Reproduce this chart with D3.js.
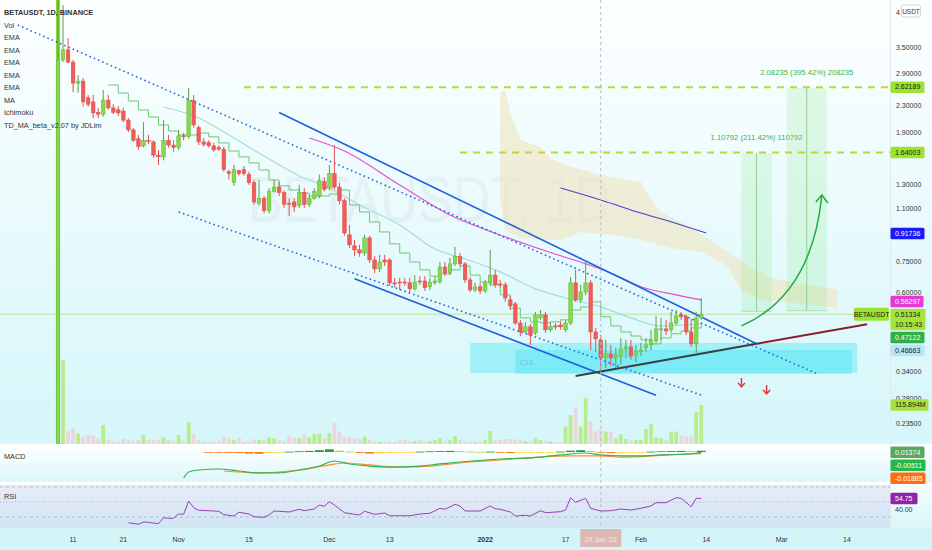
<!DOCTYPE html>
<html>
<head>
<meta charset="utf-8">
<script src="https://cdn.jsdelivr.net/npm/d3@7"></script>
<style>
  body { margin: 0; background: #fff; }
  svg { display: block; font-family: "Liberation Sans", Arial, sans-serif; }
</style>
</head>
<body>
<div id="chart"></div>
<script>
// ---- data ----
const firstDay = "2021-10-08";
const openPx  = [0.15,3.19,3.43,3.14,2.70,2.74,2.43,2.36,2.19,2.16,2.39,2.26,2.23,2.21,2.07,1.93,1.81,1.72,1.79,1.77,1.61,1.59,1.79,1.73,1.70,1.85,1.84,2.38,1.96,1.77,1.76,1.72,1.70,1.68,1.43,1.32,1.44,1.45,1.40,1.32,1.14,1.18,1.08,1.24,1.28,1.23,1.14,1.15,1.12,1.23,1.13,1.18,1.20,1.33,1.27,1.41,1.28,1.16,0.908,0.839,0.815,0.797,0.888,0.758,0.711,0.758,0.758,0.643,0.647,0.647,0.643,0.616,0.652,0.652,0.625,0.643,0.647,0.721,0.690,0.737,0.776,0.737,0.657,0.611,0.625,0.607,0.643,0.680,0.638,0.634,0.569,0.553,0.482,0.452,0.469,0.449,0.500,0.511,0.459,0.472,0.475,0.459,0.482,0.643,0.569,0.602,0.643,0.452,0.427,0.375,0.386,0.375,0.380,0.400,0.406,0.383,0.392,0.403,0.412,0.424,0.459,0.462,0.459,0.482,0.511,0.504,0.452,0.415,0.500];
const highPx  = [5.2,4.73,3.73,3.19,2.86,2.80,2.48,2.48,2.26,2.57,2.48,2.32,2.29,2.26,2.10,1.96,1.86,2.04,1.86,1.79,1.67,2.07,1.86,1.79,1.93,1.89,2.61,2.48,1.99,1.82,1.79,1.76,1.73,1.71,1.45,1.50,1.45,1.49,1.43,1.35,1.35,1.20,1.27,1.35,1.33,1.25,1.18,1.18,1.30,1.27,1.21,1.27,1.40,1.37,1.50,1.73,1.32,1.18,0.975,0.875,0.845,0.908,0.902,0.781,0.786,0.786,0.769,0.666,0.666,0.666,0.666,0.680,0.675,0.675,0.666,0.675,0.747,0.747,0.769,0.833,0.797,0.747,0.671,0.643,0.643,0.657,0.815,0.706,0.657,0.647,0.585,0.561,0.493,0.486,0.479,0.522,0.529,0.522,0.486,0.482,0.486,0.493,0.671,0.706,0.634,0.758,0.657,0.465,0.442,0.427,0.412,0.403,0.433,0.427,0.427,0.412,0.418,0.433,0.459,0.507,0.500,0.493,0.522,0.529,0.522,0.511,0.496,0.522,0.577];
const lowPx   = [0.15,3.14,3.12,2.53,2.52,2.28,2.28,2.10,2.10,2.12,2.23,2.16,2.13,2.04,1.90,1.77,1.67,1.70,1.74,1.58,1.50,1.55,1.70,1.65,1.67,1.79,1.81,1.96,1.73,1.71,1.70,1.65,1.66,1.43,1.35,1.29,1.39,1.39,1.30,1.13,1.12,1.06,1.06,1.23,1.20,1.10,1.04,1.07,1.10,1.10,1.11,1.17,1.18,1.24,1.25,1.26,1.13,0.902,0.826,0.781,0.776,0.781,0.742,0.690,0.695,0.726,0.630,0.621,0.611,0.630,0.602,0.607,0.634,0.607,0.611,0.634,0.638,0.675,0.680,0.726,0.726,0.643,0.602,0.602,0.594,0.598,0.630,0.621,0.621,0.561,0.529,0.475,0.439,0.446,0.412,0.442,0.493,0.449,0.452,0.459,0.459,0.452,0.475,0.561,0.557,0.589,0.397,0.392,0.337,0.349,0.354,0.349,0.357,0.375,0.370,0.364,0.380,0.392,0.397,0.418,0.427,0.442,0.449,0.475,0.493,0.442,0.406,0.389,0.493];
const closePx = [3.19,3.43,3.14,2.70,2.74,2.36,2.32,2.18,2.16,2.39,2.26,2.19,2.18,2.07,1.93,1.79,1.71,1.79,1.78,1.61,1.59,1.79,1.73,1.70,1.85,1.84,2.38,2.00,1.77,1.74,1.72,1.67,1.68,1.45,1.41,1.45,1.41,1.41,1.32,1.15,1.18,1.08,1.24,1.28,1.23,1.13,1.13,1.11,1.23,1.13,1.18,1.24,1.34,1.26,1.41,1.28,1.16,0.920,0.845,0.815,0.797,0.888,0.758,0.711,0.747,0.747,0.643,0.638,0.643,0.643,0.616,0.647,0.647,0.621,0.647,0.652,0.721,0.690,0.737,0.776,0.737,0.657,0.611,0.625,0.607,0.643,0.680,0.634,0.634,0.577,0.545,0.482,0.452,0.469,0.442,0.511,0.511,0.459,0.469,0.469,0.469,0.482,0.643,0.569,0.602,0.643,0.452,0.430,0.375,0.386,0.375,0.383,0.400,0.406,0.380,0.394,0.397,0.412,0.427,0.462,0.462,0.455,0.482,0.507,0.504,0.452,0.415,0.500,0.51334];
const volumeM = [2500,250,39,47,30,22,27,25,17,56,12,7,9,15,12,9,12,27,12,12,12,20,12,9,27,9,65,29,12,7,5,7,9,22,17,12,20,7,9,14,12,12,19,17,12,9,25,19,17,29,19,30,30,17,32,62,37,22,19,17,15,22,12,9,7,7,9,7,12,12,7,9,12,7,9,12,17,9,12,24,12,9,7,5,7,12,39,12,12,14,15,14,12,9,9,17,12,9,7,5,5,52,86,109,52,137,68,37,42,37,37,17,29,15,12,12,12,44,59,20,17,12,35,37,25,22,25,95,115.894];

// indicator lines, [date, price]
const tdLine = [["2021-10-18",2.664],["2021-10-20",2.515],["2021-10-22",2.375],["2021-10-24",2.226],["2021-10-26",2.117],["2021-10-28",1.999],["2021-10-30",1.914],["2021-11-01",1.861],["2021-11-03",1.861],["2021-11-05",1.887],["2021-11-07",1.835],["2021-11-09",1.757],["2021-11-11",1.658],["2021-11-13",1.589],["2021-11-15",1.522],["2021-11-17",1.447],["2021-11-19",1.347],["2021-11-21",1.291],["2021-11-23",1.253],["2021-11-25",1.226],["2021-11-27",1.200],["2021-11-29",1.200],["2021-12-01",1.217],["2021-12-03",1.253],["2021-12-05",1.125],["2021-12-07",1.070],["2021-12-09",0.996],["2021-12-11",0.927],["2021-12-13",0.851],["2021-12-15",0.797],["2021-12-17",0.747],["2021-12-19",0.706],["2021-12-21",0.675],["2021-12-23",0.686],["2021-12-25",0.706],["2021-12-27",0.726],["2021-12-29",0.680],["2021-12-31",0.647],["2022-01-02",0.634],["2022-01-04",0.590],["2022-01-06",0.536],["2022-01-08",0.500],["2022-01-10",0.486],["2022-01-12",0.482],["2022-01-14",0.486],["2022-01-16",0.493],["2022-01-18",0.529],["2022-01-20",0.541],["2022-01-22",0.561],["2022-01-24",0.504],["2022-01-26",0.472],["2022-01-28",0.452],["2022-01-30",0.439],["2022-02-01",0.427],["2022-02-03",0.415],["2022-02-05",0.433],["2022-02-07",0.446],["2022-02-09",0.455],["2022-02-11",0.465],["2022-02-13",0.482]];
const emaTeal = [["2021-10-29",2.275],["2021-11-05",2.102],["2021-11-11",1.861],["2021-11-18",1.600],["2021-11-25",1.386],["2021-12-01",1.271],["2021-12-07",1.125],["2021-12-15",0.975],["2021-12-22",0.820],["2021-12-28",0.764],["2022-01-04",0.696],["2022-01-11",0.616],["2022-01-17",0.577],["2022-01-24",0.541],["2022-01-30",0.500],["2022-02-05",0.472],["2022-02-13",0.480]];
const emaPink = [["2021-11-27",1.821],["2021-12-04",1.658],["2021-12-15",1.299],["2021-12-25",1.047],["2022-01-04",0.907],["2022-01-14",0.800],["2022-01-19",0.755],["2022-01-24",0.710],["2022-01-28",0.668],["2022-02-01",0.625],["2022-02-08",0.590],["2022-02-13",0.569]];
const maIndigo = [["2022-01-16",1.271],["2022-01-24",1.166],["2022-02-01",1.062],["2022-02-09",0.975],["2022-02-14",0.920]];
const cloudTop = [["2022-01-04",2.515],["2022-01-05",2.570],["2022-01-06",2.194],["2022-01-08",1.795],["2022-01-12",1.707],["2022-01-14",1.578],["2022-01-17",1.500],["2022-01-24",1.396],["2022-02-01",1.327],["2022-02-03",1.166],["2022-02-05",1.070],["2022-02-11",0.954],["2022-02-17",0.826],["2022-02-23",0.716],["2022-02-27",0.666],["2022-03-05",0.638],["2022-03-12",0.611]];
const cloudBottom = [["2022-03-12",0.536],["2022-03-05",0.553],["2022-02-25",0.569],["2022-02-21",0.611],["2022-02-18",0.731],["2022-02-13",0.803],["2022-02-07",0.826],["2022-02-01",0.875],["2022-01-26",0.907],["2022-01-20",0.927],["2022-01-16",0.875],["2022-01-12",0.875],["2022-01-08",0.888],["2022-01-05",0.940],["2022-01-04",1.166]];

// drawings
const upperBlue = [["2021-11-21",2.185],["2022-02-24",0.4153]];
const lowerBlue = [["2021-12-06",0.6623],["2022-02-04",0.2868]];
const upperDotted = [["2021-09-30",4.099],["2022-03-08",0.3351]];
const lowerDotted = [["2021-11-01",1.070],["2022-02-13",0.2870]];
const supportLow = [["2022-01-19",0.3296],["2022-02-24",0.4153]];
const supportHigh = [["2022-02-24",0.4153],["2022-03-18",0.4774]];
const targetPrices = [2.62189, 1.64003];
const targetStarts = ["2021-11-14", "2021-12-27"];
const zoneA = [["2021-12-29",0.4177],["2022-03-16",0.3368]];
const zoneB = [["2022-01-07",0.3972],["2022-03-15",0.3344]];
const projStart = ["2022-02-21", "2022-03-02"];
const projMid = ["2022-02-24", "2022-03-06"];
const projEnd = ["2022-02-27", "2022-03-10"];
const projBase = [0.52404, 0.52662];
const projTop = [1.63196, 2.60897];
const projLabels = ["1.10792 (211.42%) 110792", "2.08235 (395.42%) 208235"];
const arrowCurve = [["2022-02-21",0.472],["2022-03-07",0.5896],["2022-03-09",1.209]];
const downArrows = [["2022-02-21",0.3135],["2022-02-26",0.2981]];
const crossDay = "2022-01-24";

// MACD / RSI
const macdDates = ["2021-11-02","2021-11-03","2021-11-05","2021-11-09","2021-11-13","2021-11-17","2021-11-21","2021-11-25","2021-11-29","2021-12-02","2021-12-05","2021-12-09","2021-12-13","2021-12-19","2021-12-23","2021-12-27","2022-01-04","2022-01-12","2022-01-16","2022-01-21","2022-01-24","2022-01-28","2022-02-01","2022-02-05","2022-02-11","2022-02-13"];
const macdValues = [-0.289,-0.222,-0.200,-0.189,-0.211,-0.233,-0.233,-0.200,-0.156,-0.100,-0.133,-0.156,-0.167,-0.156,-0.133,-0.111,-0.078,-0.056,-0.033,-0.011,-0.033,-0.044,-0.044,-0.033,-0.022,-0.00511];
const signalDates = ["2021-11-10","2021-11-17","2021-11-21","2021-11-25","2021-12-01","2021-12-04","2021-12-09","2021-12-15","2021-12-21","2021-12-27","2022-01-04","2022-01-12","2022-01-18","2022-01-24","2022-01-28","2022-02-03","2022-02-09","2022-02-13"];
const signalValues = [-0.211,-0.233,-0.222,-0.200,-0.144,-0.122,-0.144,-0.167,-0.156,-0.122,-0.089,-0.056,-0.044,-0.044,-0.056,-0.044,-0.022,-0.01885];
const histStart = "2021-11-07";
const histValues = [-0.005,-0.008,-0.010,-0.012,-0.018,-0.020,-0.012,-0.008,0.004,0.008,0.012,0.020,0.030,0.015,0.005,-0.010,-0.018,-0.015,-0.010,-0.006,-0.003,0.004,0.008,0.010,0.012,0.010,0.005,0.002,0.004,-0.005,-0.012,-0.008,-0.005,-0.003,-0.002,0.004,0.015,0.020,0.010,-0.005,-0.012,-0.010,-0.006,-0.002,0.004,0.008,0.010,0.012,0.010,0.0137];
const rsiDates = ["2021-10-22","2021-10-24","2021-10-25","2021-10-26","2021-10-28","2021-10-29","2021-10-30","2021-10-31","2021-11-01","2021-11-02","2021-11-03","2021-11-04","2021-11-05","2021-11-07","2021-11-08","2021-11-09","2021-11-10","2021-11-12","2021-11-13","2021-11-15","2021-11-16","2021-11-18","2021-11-19","2021-11-20","2021-11-21","2021-11-23","2021-11-25","2021-11-26","2021-11-28","2021-11-29","2021-11-30","2021-12-01","2021-12-02","2021-12-04","2021-12-06","2021-12-07","2021-12-08","2021-12-10","2021-12-12","2021-12-13","2021-12-15","2021-12-17","2021-12-19","2021-12-21","2021-12-23","2021-12-24","2021-12-26","2021-12-27","2021-12-28","2021-12-31","2022-01-02","2022-01-03","2022-01-04","2022-01-06","2022-01-07","2022-01-09","2022-01-10","2022-01-12","2022-01-13","2022-01-16","2022-01-17","2022-01-18","2022-01-19","2022-01-21","2022-01-22","2022-01-24","2022-01-26","2022-01-28","2022-01-30","2022-02-01","2022-02-03","2022-02-04","2022-02-06","2022-02-08","2022-02-09","2022-02-11","2022-02-12","2022-02-13"];
const rsiValues = [22.4,20.3,23.3,22.9,21.1,29.1,28.3,28.3,34.0,33.6,51.3,42.4,38.9,38.4,38.0,37.6,33.1,31.3,36.3,34.0,30.4,29.6,32.7,38.0,37.6,36.7,40.3,38.4,40.7,46.0,44.3,50.4,46.0,35.7,33.6,32.7,37.6,33.6,35.3,31.7,31.7,31.7,34.0,34.9,41.6,40.3,46.9,44.7,38.0,38.0,44.7,41.1,40.3,36.7,31.3,32.3,31.3,38.4,35.7,37.1,39.3,55.7,49.6,54.9,41.6,38.0,38.4,40.7,39.3,41.6,44.7,49.1,49.1,55.7,54.9,43.7,54.9,54.75];

// axes
const priceTicks = [3.5, 2.9, 2.3, 1.9, 1.3, 1.1, 0.75, 0.6, 0.34, 0.28, 0.235];
const topTick = 4.5;   // its label is mostly hidden behind the currency box
const timeTicks = ["2021-10-11","2021-10-21","2021-11-01","2021-11-15","2021-12-01","2021-12-13","2022-01-01","2022-01-17","2022-02-01","2022-02-14","2022-03-01","2022-03-14"];
const timeLabels = ["11","21","Nov","15","Dec","13","2022","17","Feb","14","Mar","14"];
const legendItems = ["Vol","EMA","EMA","EMA","EMA","EMA","MA","Ichimoku","TD_MA_beta_v2.07 by JDLim"];

// ---- layout ----
const W = 932, H = 550, axisX = 890;
const mainBottom = 444, macdTop = 445, macdBottom = 482, rsiTop = 484, rsiBottom = 528;
const parseDay = d3.utcParse("%Y-%m-%d");
const day0 = parseDay(firstDay);
const dates = d3.utcDay.range(day0, d3.utcDay.offset(day0, closePx.length));
const candles = dates.map((d, i) => ({ date: d, o: openPx[i], h: highPx[i], l: lowPx[i], c: closePx[i], v: volumeM[i] }));

const x = d3.scaleUtc().domain([parseDay("2021-10-08"), parseDay("2022-03-14")]).range([58, 847]);
const y = d3.scaleLog().domain([3.5, 0.235]).range([47, 423]);
const yVol = d3.scaleLinear().domain([0, 115.894]).range([mainBottom, 405]);
const yMacd = d3.scaleLinear().domain([0.05, -0.3]).range([447.5, 479]);
const yRsi = d3.scaleLinear().domain([70, 30]).range([487, 517]);
const px = d => x(parseDay(d));

const svg = d3.select("#chart").append("svg").attr("width", W).attr("height", H);
const defs = svg.append("defs");

function gradient(id, c1, c2) {
  const g = defs.append("linearGradient").attr("id", id)
    .attr("x1", 0).attr("y1", 0).attr("x2", 0).attr("y2", 1);
  g.append("stop").attr("offset", "0%").attr("stop-color", c1);
  g.append("stop").attr("offset", "100%").attr("stop-color", c2);
}
gradient("gMain", "#fdffff", "#d5f6fa");
gradient("gMacd", "#ffffff", "#dcf7fa");
gradient("gRsi", "#f6fdfe", "#d9f6f9");

defs.append("clipPath").attr("id", "clipMain").append("rect")
  .attr("x", 0).attr("y", 0).attr("width", axisX).attr("height", mainBottom);
defs.append("clipPath").attr("id", "clipPlot").append("rect")
  .attr("x", 0).attr("y", 0).attr("width", axisX).attr("height", rsiBottom);
defs.append("clipPath").attr("id", "clipTop").append("rect")
  .attr("x", 890).attr("y", 0).attr("width", 11).attr("height", 20);

// backgrounds
svg.append("rect").attr("width", W).attr("height", mainBottom).attr("fill", "url(#gMain)");
svg.append("rect").attr("y", macdTop).attr("width", W).attr("height", macdBottom - macdTop).attr("fill", "url(#gMacd)");
svg.append("rect").attr("y", rsiTop).attr("width", W).attr("height", rsiBottom - rsiTop).attr("fill", "url(#gRsi)");
svg.append("rect").attr("y", rsiBottom).attr("width", W).attr("height", H - rsiBottom).attr("fill", "#d3f5f8");
svg.append("rect").attr("x", 0).attr("y", rsiTop + 1).attr("width", axisX).attr("height", rsiBottom - rsiTop - 1)
  .attr("fill", "#9d7fd6").attr("opacity", 0.14);
[mainBottom + 0.5, macdBottom + 1].forEach(v =>
  svg.append("line").attr("x1", 0).attr("x2", W).attr("y1", v).attr("y2", v).attr("stroke", "#ffffff").attr("stroke-width", 1.5));
svg.append("line").attr("x1", axisX + 0.5).attr("x2", axisX + 0.5).attr("y1", 0).attr("y2", rsiBottom)
  .attr("stroke", "#e3e8ea");

const main = svg.append("g").attr("clip-path", "url(#clipMain)");

// watermark
main.append("text").attr("x", 248).attr("y", 222).attr("font-size", 64)
  .attr("textLength", 364).attr("lengthAdjust", "spacingAndGlyphs")
  .attr("fill", "#000").attr("opacity", 0.03).text("BETAUSDT, 1D");

// ichimoku cloud
const priceLine = d3.line().x(d => px(d[0])).y(d => y(d[1]));
main.append("path").attr("d", priceLine(cloudTop.concat(cloudBottom)) + "Z")
  .attr("fill", "#f1e2b8").attr("opacity", 0.55);

// demand zones
[zoneA, zoneB].forEach(z => {
  main.append("rect").attr("x", px(z[0][0])).attr("y", y(z[0][1]))
    .attr("width", px(z[1][0]) - px(z[0][0])).attr("height", y(z[1][1]) - y(z[0][1]))
    .attr("fill", "#3fe6f2").attr("opacity", 0.38);
});
main.append("text").attr("x", 520).attr("y", 365).attr("font-size", 7).attr("fill", "#7fb8bf").text("C13");

// volume
main.selectAll("rect.vol").data(candles).join("rect").attr("class", "vol")
  .attr("x", d => x(d.date) - 1.9).attr("width", 3.8)
  .attr("y", d => yVol(d.v)).attr("height", d => mainBottom - yVol(d.v))
  .attr("fill", (d, i) => i === 0 ? "#7ed321" : d.c >= d.o ? "#b9ec8e" : "#ead8d8");

// last price line
main.append("line").attr("x1", 0).attr("x2", 855).attr("y1", y(0.51334)).attr("y2", y(0.51334))
  .attr("stroke", "#b9e39c").attr("stroke-width", 1);

// projections
projStart.forEach((s, i) => {
  const x0 = px(s), x1 = px(projEnd[i]), xm = px(projMid[i]);
  main.append("rect").attr("x", x0).attr("y", y(projTop[i])).attr("width", x1 - x0)
    .attr("height", y(projBase[i]) - y(projTop[i])).attr("fill", "#8ee68e").attr("opacity", 0.22);
  main.append("line").attr("x1", xm).attr("x2", xm).attr("y1", y(projTop[i])).attr("y2", y(projBase[i]))
    .attr("stroke", "#7cc77c").attr("stroke-width", 0.8);
  main.append("line").attr("x1", x0).attr("x2", x1).attr("y1", y(projBase[i])).attr("y2", y(projBase[i]))
    .attr("stroke", "#a6d8a6").attr("stroke-width", 0.8);
  main.append("text").attr("x", xm).attr("y", y(projTop[i]) - 13).attr("text-anchor", "middle")
    .attr("font-size", 7.7).attr("fill", "#3cb34a").text(projLabels[i]);
});

// target dashed levels
targetPrices.forEach((p, i) => {
  main.append("line").attr("x1", px(targetStarts[i])).attr("x2", axisX).attr("y1", y(p)).attr("y2", y(p))
    .attr("stroke", "#bcd835").attr("stroke-width", 2).attr("stroke-dasharray", "7,6");
});

// indicator lines
main.append("path").attr("d", priceLine.curve(d3.curveMonotoneX)(emaTeal))
  .attr("fill", "none").attr("stroke", "#a5ddd6").attr("stroke-width", 1.2);
main.append("path").attr("d", priceLine.curve(d3.curveMonotoneX)(emaPink))
  .attr("fill", "none").attr("stroke", "#e64fcf").attr("stroke-width", 1.1);
main.append("path").attr("d", priceLine.curve(d3.curveMonotoneX)(maIndigo))
  .attr("fill", "none").attr("stroke", "#4b41d0").attr("stroke-width", 1.1);
main.append("path").attr("d", priceLine.curve(d3.curveStepAfter)(tdLine))
  .attr("fill", "none").attr("stroke", "#6cc874").attr("stroke-width", 1);
priceLine.curve(d3.curveLinear);

// trend lines
[upperBlue, lowerBlue].forEach(l => main.append("path").attr("d", priceLine(l))
  .attr("stroke", "#1f5fe0").attr("stroke-width", 1.6).attr("fill", "none"));
[upperDotted, lowerDotted].forEach(l => main.append("path").attr("d", priceLine(l))
  .attr("stroke", "#2f66dc").attr("stroke-width", 1.6).attr("fill", "none").attr("stroke-dasharray", "1.6,3"));
main.append("path").attr("d", priceLine(supportLow)).attr("stroke", "#3b3f45").attr("stroke-width", 2).attr("fill", "none");
main.append("path").attr("d", priceLine(supportHigh)).attr("stroke", "#8b1e2a").attr("stroke-width", 2).attr("fill", "none");

// candles
const cg = main.append("g");
cg.selectAll("line.wick").data(candles).join("line").attr("class", "wick")
  .attr("x1", d => x(d.date)).attr("x2", d => x(d.date))
  .attr("y1", d => y(d.h)).attr("y2", d => y(d.l))
  .attr("stroke", d => d.c >= d.o ? "#5e9f45" : "#e0524f").attr("stroke-width", 1);
cg.selectAll("rect.body").data(candles).join("rect").attr("class", "body")
  .attr("x", d => x(d.date) - 1.8).attr("width", 3.6)
  .attr("y", d => y(Math.max(d.o, d.c)))
  .attr("height", d => Math.max(1, Math.abs(y(d.o) - y(d.c))))
  .attr("fill", d => d.c >= d.o ? "#86d94a" : "#f05c5a")
  .attr("stroke", d => d.c >= d.o ? "#5fb330" : "#e24a48").attr("stroke-width", 0.5);

// curved arrow
const a0 = [px(arrowCurve[0][0]), y(arrowCurve[0][1])];
const a1 = [px(arrowCurve[1][0]), y(arrowCurve[1][1])];
const a2 = [px(arrowCurve[2][0]), y(arrowCurve[2][1])];
const curve = d3.path();
curve.moveTo(a0[0], a0[1]);
curve.quadraticCurveTo(a1[0], a1[1], a2[0], a2[1]);
main.append("path").attr("d", curve.toString()).attr("fill", "none").attr("stroke", "#1fae45").attr("stroke-width", 1.5);
main.append("path").attr("d", `M${a2[0] - 6},${a2[1] + 7}L${a2[0]},${a2[1]}L${a2[0] + 6},${a2[1] + 8}`)
  .attr("fill", "none").attr("stroke", "#1fae45").attr("stroke-width", 1.5);

// red down arrows
downArrows.forEach(a => {
  const ax = px(a[0]), ay = y(a[1]);
  main.append("path").attr("d", `M${ax},${ay - 5}V${ay + 3}M${ax - 3.5},${ay}L${ax},${ay + 4}L${ax + 3.5},${ay}`)
    .attr("fill", "none").attr("stroke", "#e53935").attr("stroke-width", 1.5);
});

// crosshair
svg.append("line").attr("x1", px(crossDay)).attr("x2", px(crossDay)).attr("y1", 0).attr("y2", rsiBottom)
  .attr("stroke", "#b8bcc0").attr("stroke-width", 1).attr("stroke-dasharray", "3,3");

// legend
const legend = svg.append("g").attr("font-size", 7.3).attr("fill", "#333");
legend.append("text").attr("x", 4).attr("y", 15).attr("font-weight", "bold").text("BETAUSDT, 1D, BINANCE");
legend.selectAll("text.item").data(legendItems).join("text").attr("class", "item")
  .attr("x", 4).attr("y", (d, i) => 27.5 + i * 12.5).text(d => d);

// MACD pane
const plot = svg.append("g").attr("clip-path", "url(#clipPlot)");
const histDates = histValues.map((v, i) => d3.utcDay.offset(parseDay(histStart), i * 2));
plot.selectAll("rect.hist").data(histValues).join("rect").attr("class", "hist")
  .attr("x", (v, i) => x(histDates[i]) - 4.5).attr("width", 9)
  .attr("y", v => Math.min(yMacd(v), yMacd(0)))
  .attr("height", v => Math.max(0.8, Math.abs(yMacd(v) - yMacd(0))))
  .attr("fill", (v, i) => {
    const prev = i > 0 ? histValues[i - 1] : v;
    if (v >= 0) return v >= prev ? "#239a3d" : "#9fe03c";
    return v <= prev ? "#ff7b1c" : "#ffd530";
  });
const valLine = d3.line().x(d => px(d[0])).curve(d3.curveMonotoneX);
plot.append("path").attr("d", valLine.y(d => yMacd(d[1]))(d3.zip(signalDates, signalValues)))
  .attr("fill", "none").attr("stroke", "#f5922f").attr("stroke-width", 1.2);
plot.append("path").attr("d", valLine.y(d => yMacd(d[1]))(d3.zip(macdDates, macdValues)))
  .attr("fill", "none").attr("stroke", "#33b14e").attr("stroke-width", 1.2);
svg.append("text").attr("x", 4).attr("y", 459).attr("font-size", 7.3).attr("fill", "#333").text("MACD");

// RSI pane
[[70, "3,3"], [50, "1,2"], [30, "3,3"]].forEach(([v, dash]) =>
  plot.append("line").attr("x1", 0).attr("x2", axisX).attr("y1", yRsi(v)).attr("y2", yRsi(v))
    .attr("stroke", "#a8a3b5").attr("stroke-width", 0.7).attr("stroke-dasharray", dash));
plot.append("path").attr("d", d3.line().x(d => px(d[0])).y(d => yRsi(d[1]))(d3.zip(rsiDates, rsiValues)))
  .attr("fill", "none").attr("stroke", "#9a3fb5").attr("stroke-width", 1);
svg.append("text").attr("x", 4).attr("y", 499).attr("font-size", 7.3).attr("fill", "#333").text("RSI");

// time axis
const tAxis = svg.append("g").attr("font-size", 7).attr("fill", "#333").attr("text-anchor", "middle");
timeTicks.forEach((t, i) => {
  tAxis.append("text").attr("x", px(t)).attr("y", 542)
    .attr("font-weight", timeLabels[i] === "2022" ? "bold" : "normal").text(timeLabels[i]);
});
svg.append("rect").attr("x", px(crossDay) - 20.5).attr("y", 529).attr("width", 41).attr("height", 18).attr("fill", "#dcb9b4");
svg.append("text").attr("x", px(crossDay)).attr("y", 542).attr("text-anchor", "middle").attr("font-size", 7)
  .attr("fill", "#f8e8e5").text("24 Jan '22");

// price axis labels
const fmt5 = d3.format(".5f");
const pAxis = svg.append("g").attr("font-size", 7).attr("fill", "#333");
priceTicks.forEach(p => pAxis.append("text").attr("x", 896).attr("y", y(p) + 2.5).text(fmt5(p)));
svg.append("g").attr("clip-path", "url(#clipTop)").append("text")
  .attr("x", 896).attr("y", 14.5).attr("font-size", 7).attr("fill", "#333").text(d3.format("d")(Math.floor(topTick)));
svg.append("rect").attr("x", 901.5).attr("y", 5).attr("width", 19).attr("height", 12).attr("rx", 2)
  .attr("fill", "#fff").attr("stroke", "#b5bcc0").attr("stroke-width", 0.6);
svg.append("text").attr("x", 911).attr("y", 13.5).attr("text-anchor", "middle").attr("font-size", 6.5)
  .attr("fill", "#333").text("USDT");

// badges on the right axis, stacked so they never overlap
function drawBadges(list, minTop) {
  let prevBottom = minTop;
  list.forEach(b => {
    const h = b.lines.length * 10 + 1.5;
    const top = Math.max(b.y - 5.75, prevBottom + 1.5);
    svg.append("rect").attr("x", axisX + 0.5).attr("y", top).attr("width", b.w).attr("height", h)
      .attr("rx", 1.5).attr("fill", b.fill);
    b.lines.forEach((t, k) => svg.append("text").attr("x", axisX + 5).attr("y", top + 8 + k * 10)
      .attr("font-size", 7).attr("fill", b.color).text(t));
    prevBottom = top + h;
  });
}
drawBadges([
  { y: y(2.62189), w: 34, fill: "#9de22e", color: "#1a1a1a", lines: ["2.62189"] },
  { y: y(1.64003), w: 34, fill: "#9de22e", color: "#1a1a1a", lines: ["1.64003"] },
  { y: y(0.91736), w: 34, fill: "#1b1bf5", color: "#ffffff", lines: ["0.91736"] },
  { y: y(0.56297), w: 33, fill: "#e63ad8", color: "#ffffff", lines: ["0.56297"] },
  { y: y(0.51334), w: 35, fill: "#a6e33c", color: "#1a1a1a", lines: ["0.51334", "10:15:43"] },
  { y: y(0.47122), w: 34, fill: "#2fb14a", color: "#ffffff", lines: ["0.47122"] },
  { y: y(0.46663), w: 34, fill: "#b9e6f5", color: "#1a1a1a", lines: ["0.46663"] }
], 0);
drawBadges([{ y: yVol(115.894), w: 38, fill: "#a6e33c", color: "#1a1a1a", lines: ["115.894M"] }], 0);
drawBadges([
  { y: yMacd(0.01374), w: 34, fill: "#5aa85e", color: "#ffffff", lines: ["0.01374"] },
  { y: yMacd(-0.00511), w: 35, fill: "#22b84a", color: "#ffffff", lines: ["-0.00511"] },
  { y: yMacd(-0.01885), w: 35, fill: "#ff6d12", color: "#ffffff", lines: ["-0.01885"] }
], macdTop);
drawBadges([{ y: yRsi(54.75), w: 27, fill: "#8e24aa", color: "#ffffff", lines: ["54.75"] }], rsiTop);
svg.append("text").attr("x", 895).attr("y", yRsi(40) + 2.5).attr("font-size", 7).attr("fill", "#333").text("40.00");

// symbol label at last price
svg.append("rect").attr("x", 854).attr("y", y(0.51334) - 6.5).attr("width", 35).attr("height", 13)
  .attr("rx", 1.5).attr("fill", "#9de22e");
svg.append("text").attr("x", 871.5).attr("y", y(0.51334) + 2.5).attr("text-anchor", "middle")
  .attr("font-size", 6.8).attr("fill", "#1a1a1a").text("BETAUSDT");
</script>
</body>
</html>
